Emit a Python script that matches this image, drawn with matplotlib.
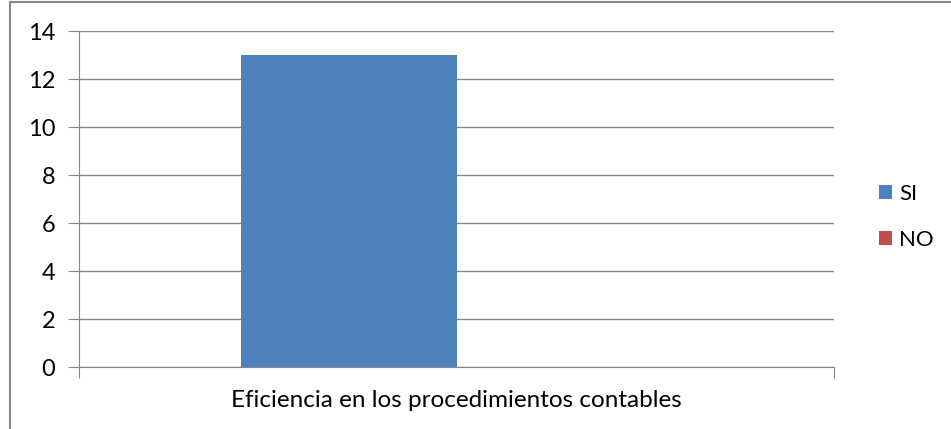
import matplotlib.pyplot as plt
from matplotlib.lines import Line2D

plt.rcParams['font.family'] = ['Lato', 'DejaVu Sans']

categoria = 'Eficiencia en los procedimientos contables'
series = ['SI', 'NO']
valores = [13, 0]
colores = ['#4F81BD', '#C0504D']
yticks = [0, 2, 4, 6, 8, 10, 12, 14]

fig = plt.figure(figsize=(9.51, 4.29), dpi=100)
ax = fig.add_axes([79/951, 62/429, 755/951, 336/429])

ancho = 0.286
for i, (s, v, c) in enumerate(zip(series, valores, colores)):
    ax.bar((i - 0.5) * ancho, v, width=ancho, color=c, label=s, zorder=3)

ax.set_xlim(-0.5, 0.5)
ax.set_ylim(0, 14)
ax.set_yticks(yticks)
ax.set_yticklabels([str(t) for t in yticks], fontsize=17)
ax.yaxis.grid(True, color='#868686', linewidth=1, zorder=0)
ax.tick_params(axis='y', length=8, color='#868686', pad=9)
ax.set_xticks([-0.5, 0.5])
ax.set_xticklabels(['', ''])
ax.tick_params(axis='x', length=8, color='#868686')
ax.text(0, -0.10, categoria, transform=ax.get_xaxis_transform(),
        ha='center', va='center', fontsize=17.5)

for lado in ['top', 'right']:
    ax.spines[lado].set_visible(False)
ax.spines['left'].set_color('#868686')
ax.spines['bottom'].set_color('#868686')

leg = fig.legend(loc='center left', bbox_to_anchor=(879/951, 1 - 217/429), frameon=False,
                 fontsize=16, handlelength=0.6, handleheight=0.6, handletextpad=0.3,
                 labelspacing=1.15, borderaxespad=0, borderpad=0)

# borde del grafico
fig.add_artist(Line2D([10/951, 1], [1 - 2/429, 1 - 2/429], color='#868686', linewidth=1.5))
fig.add_artist(Line2D([10/951, 10/951], [0, 1 - 2/429], color='#868686', linewidth=1.5))

fig.savefig('out.png', dpi=100)
